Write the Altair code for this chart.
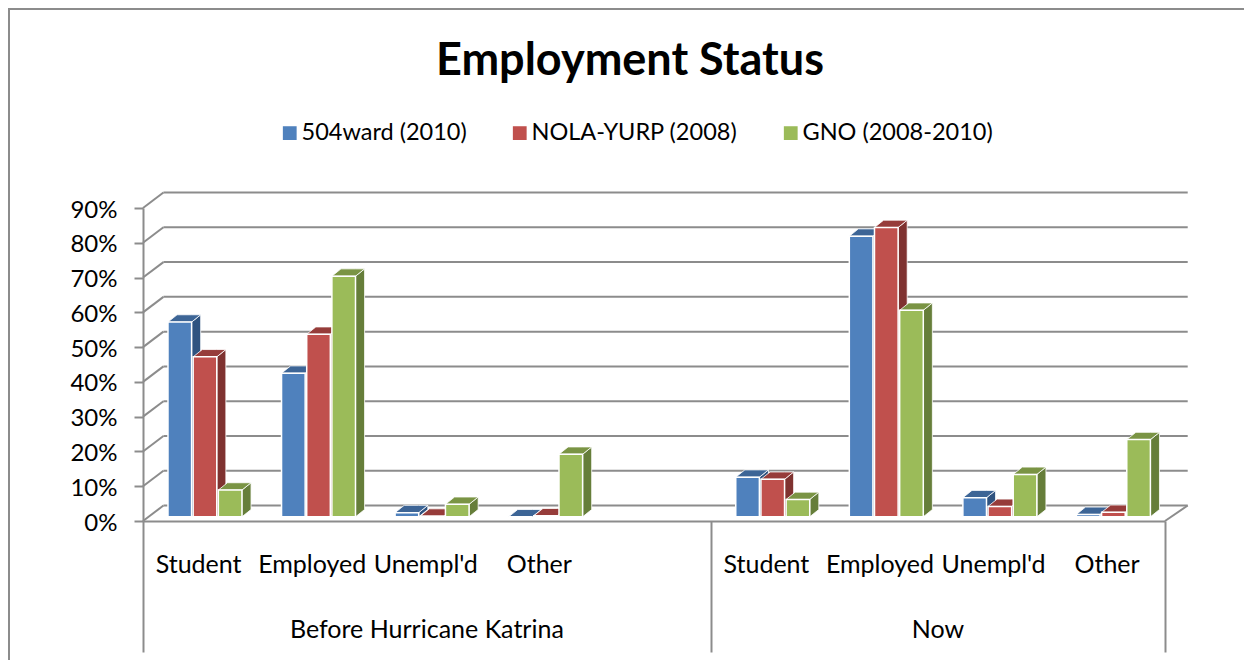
import altair as alt
import pandas as pd

SERIES = ["504ward (2010)", "NOLA-YURP (2008)", "GNO (2008-2010)"]
CATEGORIES = ["Student", "Employed", "Unempl'd", "Other"]
GROUPS = ["Before Hurricane Katrina", "Now"]
VAL_504 = [56.0, 41.3, 1.2, 0.0, 11.4, 80.7, 5.5, 0.7]
VAL_NOLA = [46.0, 52.5, 0.2, 0.3, 10.8, 83.2, 3.0, 1.3]
VAL_GNO = [7.7, 69.2, 3.6, 18.0, 5.0, 59.4, 12.2, 22.2]
TICKS = [0, 10, 20, 30, 40, 50, 60, 70, 80, 90]
SLOTS = [0, 1, 2, 3, 5, 6, 7, 8]  # category slot; slot 4 is the blank one
GROUP_CENTERS = [2.5, 7.0]
SEPARATORS = [0, 5, 9]

FRONT = ["#4F81BD", "#C0504D", "#9BBB59"]
SIDE = ["#2F5380", "#7F3230", "#667E3A"]
TOP = ["#3D6596", "#963C3A", "#7A9444"]
GRID = "#8C8C8C"
FONT = "Lato"

WALL_DX, WALL_DY = 0.18, 4.45
BAR_DX, BAR_DY = 0.08, 2.1
BAR_START, BAR_PITCH, BAR_W = 0.22, 0.2217, 0.208
BASE = 1.2

fronts, sides, tops = [], [], []
for s, (name, vals) in enumerate(zip(SERIES, [VAL_504, VAL_NOLA, VAL_GNO])):
    for slot, v in zip(SLOTS, vals):
        xl = slot + BAR_START + s * BAR_PITCH
        xr = xl + BAR_W
        y0, y1 = BASE, BASE + v
        bid = f"b{s}{slot}"
        fronts.append(dict(series=name, x=xl, x2=xr, y=y0, y2=y1))
        sides += [
            dict(id=bid, x=xr, y=y1, y2=y0, shade=SIDE[s]),
            dict(id=bid, x=xr + BAR_DX, y=y1 + BAR_DY, y2=y0 + BAR_DY, shade=SIDE[s]),
        ]
        tops += [
            dict(id=bid, x=xl, y=y1, y2=y1, shade=TOP[s]),
            dict(id=bid, x=xl + BAR_DX, y=y1, y2=y1 + BAR_DY, shade=TOP[s]),
            dict(id=bid, x=xr, y=y1, y2=y1 + BAR_DY, shade=TOP[s]),
            dict(id=bid, x=xr + BAR_DX, y=y1 + BAR_DY, y2=y1 + BAR_DY, shade=TOP[s]),
        ]

lines = []
for t in TICKS:
    lines.append(dict(x=WALL_DX, x2=9.2, y=t + WALL_DY, y2=t + WALL_DY))
    lines.append(dict(x=0, x2=WALL_DX, y=t, y2=t + WALL_DY))
lines.append(dict(x=9, x2=9.2, y=0, y2=WALL_DY))

cat_labels = pd.DataFrame(
    [dict(x=slot + 0.49, label=CATEGORIES[i % 4]) for i, slot in enumerate(SLOTS)]
)
group_labels = pd.DataFrame(dict(x=GROUP_CENTERS, label=GROUPS))

X_SCALE = alt.Scale(domain=[0, 9], nice=False, zero=False)
Y_SCALE = alt.Scale(domain=[0, 90], nice=False, zero=False)
X_AXIS = alt.Axis(
    values=SEPARATORS, labels=False, title=None, grid=False, tickSize=131,
    tickColor=GRID, tickWidth=2, domainColor=GRID, domainWidth=2,
)
Y_AXIS = alt.Axis(
    values=TICKS, title=None, grid=False, tickSize=9, tickColor=GRID, tickWidth=2,
    domainColor=GRID, domainWidth=2, labelExpr="datum.value + '%'",
    labelFont=FONT, labelFontSize=24, labelColor="#000000", labelPadding=17, labelOffset=2,
)


def X(field="x"):
    return alt.X(f"{field}:Q", scale=X_SCALE, axis=X_AXIS)


def Y(field="y"):
    return alt.Y(f"{field}:Q", scale=Y_SCALE, axis=Y_AXIS, stack=None)


grid = alt.Chart(pd.DataFrame(lines)).mark_rule(color=GRID, strokeWidth=2).encode(
    x=X(), x2="x2:Q", y=Y(), y2="y2:Q"
)


def faces(rows):
    return alt.Chart(pd.DataFrame(rows)).mark_area(stroke="white", strokeWidth=0.8).encode(
        x=X(), y=Y(), y2="y2:Q", detail="id:N",
        color=alt.Color("shade:N", scale=None),
    )


front = alt.Chart(pd.DataFrame(fronts)).mark_rect(stroke="white", strokeWidth=1.5).encode(
    x=X(), x2="x2:Q", y=Y(), y2="y2:Q",
    color=alt.Color(
        "series:N", scale=alt.Scale(domain=SERIES, range=FRONT),
        legend=alt.Legend(
            title=None, orient="none", legendX=135, legendY=-87, direction="horizontal",
            columns=3, columnPadding=41, symbolType="square", symbolSize=190,
            labelFont=FONT, labelFontSize=23.5, labelColor="#000000", labelOffset=0,
            labelLimit=400, symbolStrokeWidth=0,
        ),
    ),
)

cat_text = alt.Chart(cat_labels).mark_text(
    font=FONT, fontSize=25, color="#000000", baseline="alphabetic"
).encode(x=X(), y=alt.value(365), text="label:N")
group_text = alt.Chart(group_labels).mark_text(
    font=FONT, fontSize=25, color="#000000", baseline="alphabetic"
).encode(x=X(), y=alt.value(430), text="label:N")

border_top = alt.Chart(pd.DataFrame(dict(a=[0]))).mark_rule(color=GRID, strokeWidth=2).encode(
    x=alt.value(-135), x2=alt.value(1101), y=alt.value(-199)
)
border_left = alt.Chart(pd.DataFrame(dict(a=[0]))).mark_rule(color=GRID, strokeWidth=2).encode(
    x=alt.value(-134), y=alt.value(-200), y2=alt.value(452)
)

chart = alt.layer(
    border_top, border_left, grid,
    faces(sides), faces(tops), front, cat_text, group_text,
).properties(
    width=1022, height=313,
    padding={"left": 135, "top": 200, "right": 79, "bottom": 147},
    autosize=alt.AutoSizeParams(type="none"),
    title=alt.TitleParams(
        "Employment Status", font=FONT, fontSize=45, fontWeight="bold", color="#000000",
        anchor="middle", baseline="alphabetic", dx=-24, offset=-113,
    ),
    background="white",
).configure_view(stroke=None)

chart.save("out.html", embed_options={"renderer": "svg", "actions": False})
